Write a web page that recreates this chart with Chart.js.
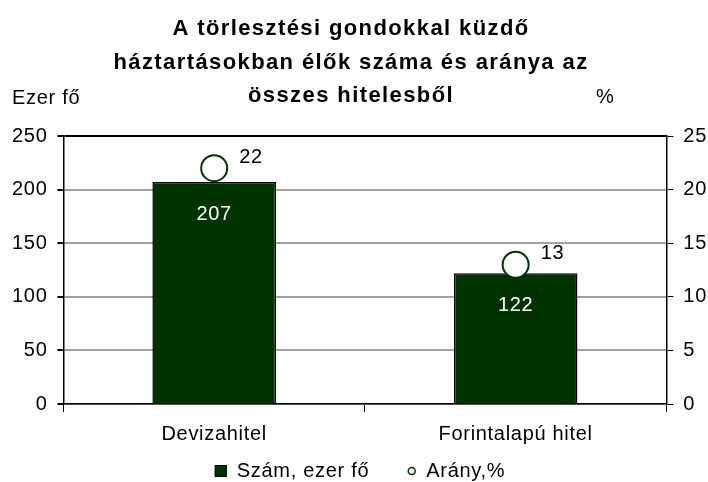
<!DOCTYPE html>
<html>
<head>
<meta charset="utf-8">
<script src="https://cdn.jsdelivr.net/npm/chart.js@4"></script>
<style>
  html, body { margin: 0; padding: 0; background: #fff; }
  #wrap { width: 708px; height: 482px; }
</style>
</head>
<body>
<div id="wrap"><canvas id="grafikon"></canvas></div>
<script>
// ======== ADATOK =========
const cim = ['A törlesztési gondokkal küzdő', 'háztartásokban élők száma és aránya az', 'összes hitelesből'];
const kategoriak = ['Devizahitel', 'Forintalapú hitel'];
const szam = [207, 122];      // ezer fő
const arany = [22, 13];       // %
const balTick = [0, 50, 100, 150, 200, 250];
const jobbTick = [0, 5, 10, 15, 20, 25];

const zold = '#003300';
const betu = '"Liberation Sans", Arial, sans-serif';
const meret = 20;

// ======== SZÖVEGEK, JELMAGYARÁZAT =========
const ritkitas = {
  id: 'ritkitas',
  beforeUpdate(chart) { chart.ctx.letterSpacing = '0.7px'; },
  beforeDraw(chart) { chart.ctx.letterSpacing = '0.7px'; }
};

const feliratok = {
  id: 'feliratok',
  afterDatasetsDraw(chart) {
    const ctx = chart.ctx;
    const a = chart.chartArea;
    ctx.save();
    ctx.font = meret + 'px ' + betu;
    ctx.letterSpacing = '0.7px';

    // értékek
    chart.getDatasetMeta(0).data.forEach((el, i) => {
      ctx.fillStyle = '#fff';
      ctx.textAlign = 'center';
      ctx.textBaseline = 'middle';
      ctx.fillText(szam[i], el.x, el.y + 32);
    });
    chart.getDatasetMeta(1).data.forEach((el, i) => {
      ctx.fillStyle = '#000';
      ctx.textAlign = 'left';
      ctx.textBaseline = 'middle';
      ctx.fillText(arany[i], el.x + 25, el.y - 11);
    });

    // tengelycímek
    ctx.fillStyle = '#000';
    ctx.textBaseline = 'alphabetic';
    ctx.textAlign = 'left';
    ctx.fillText('Ezer fő', 12, a.top - 32);
    ctx.textAlign = 'center';
    ctx.fillText('%', a.right - 61, a.top - 33);

    // cím
    ctx.font = 'bold 22px ' + betu;
    ctx.letterSpacing = '1.4px';
    cim.forEach((sor, i) => ctx.fillText(sor, 351, 35 + i * 33.5));

    // jelmagyarázat
    ctx.font = meret + 'px ' + betu;
    ctx.letterSpacing = '0.7px';
    ctx.textAlign = 'left';
    ctx.textBaseline = 'middle';
    const t1 = chart.data.datasets[0].label;
    const t2 = chart.data.datasets[1].label;
    const w1 = ctx.measureText(t1).width;
    const w2 = ctx.measureText(t2).width;
    const teljes = 12 + 10 + w1 + 39 + 7 + 11 + w2;
    let x = 360 - teljes / 2;
    const y = 471;
    ctx.fillStyle = zold;
    ctx.fillRect(x, y - 6, 12, 12);
    ctx.strokeStyle = '#000';
    ctx.lineWidth = 1;
    ctx.strokeRect(x + 0.5, y - 5.5, 11, 11);
    x += 22;
    ctx.fillStyle = '#000';
    ctx.fillText(t1, x, y);
    x += w1 + 39;
    ctx.beginPath();
    ctx.arc(x + 3.5, y, 3.5, 0, Math.PI * 2);
    ctx.fillStyle = '#fff';
    ctx.fill();
    ctx.strokeStyle = zold;
    ctx.lineWidth = 1.5;
    ctx.stroke();
    x += 18;
    ctx.fillStyle = '#000';
    ctx.fillText(t2, x, y);
    ctx.restore();
  }
};

const ctx = document.getElementById('grafikon');
new Chart(ctx, {
  type: 'bar',
  data: {
    labels: kategoriak,
    datasets: [
      {
        label: 'Szám, ezer fő',
        data: szam,
        backgroundColor: zold,
        borderColor: '#000',
        borderWidth: 1.5,
        barPercentage: 0.41,
        categoryPercentage: 1,
        yAxisID: 'y',
        order: 1
      },
      {
        type: 'line',
        label: 'Arány,%',
        data: arany,
        showLine: false,
        pointRadius: 13,
        pointHoverRadius: 13,
        pointBackgroundColor: '#fff',
        pointBorderColor: zold,
        pointBorderWidth: 2,
        yAxisID: 'y1',
        order: 0
      }
    ]
  },
  options: {
    responsive: true,
    maintainAspectRatio: false,
    animation: false,
    layout: { padding: { left: 2, right: -9, top: 136, bottom: 26 } },
    plugins: {
      title: { display: false },
      legend: { display: false },
      tooltip: { enabled: false }
    },
    scales: {
      x: {
        grid: { drawOnChartArea: false, tickLength: 8, tickColor: '#000', offset: true },
        border: { color: '#000', width: 1.5 },
        ticks: { color: '#000', font: { family: betu, size: meret }, padding: 10 }
      },
      y: {
        position: 'left',
        min: 0, max: 250,
        afterBuildTicks: s => { s.ticks = balTick.map(v => ({ value: v })); },
        grid: {
          color: c => c.tick && c.tick.value === 250 ? '#000' : '#a0a0a0',
          lineWidth: 2,
          tickLength: 6,
          tickColor: '#000'
        },
        border: { color: '#000', width: 1.5 },
        ticks: { color: '#000', font: { family: betu, size: meret }, padding: 10 }
      },
      y1: {
        position: 'right',
        min: 0, max: 25,
        afterBuildTicks: s => { s.ticks = jobbTick.map(v => ({ value: v })); },
        grid: { drawOnChartArea: false, tickLength: 7, tickColor: '#000' },
        border: { color: '#000', width: 1.5 },
        ticks: { color: '#000', font: { family: betu, size: meret }, padding: 10 }
      }
    }
  },
  plugins: [ritkitas, feliratok]
});
</script>
</body>
</html>
